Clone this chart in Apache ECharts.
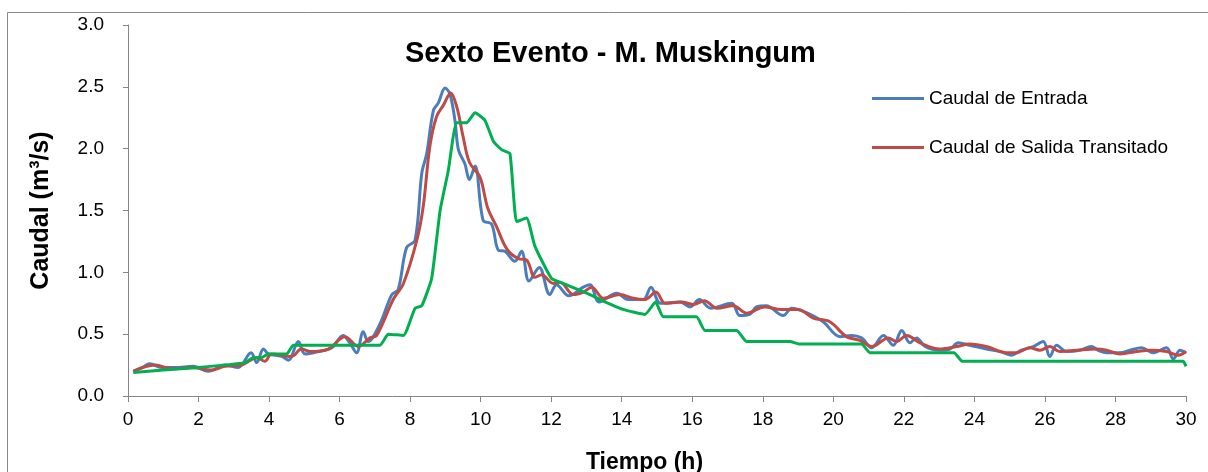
<!DOCTYPE html>
<html>
<head>
<meta charset="utf-8">
<script src="https://cdn.jsdelivr.net/npm/echarts@6/dist/echarts.min.js"></script>
<style>
html,body{margin:0;padding:0;background:#fff;}
#chart{width:1208px;height:472px;}
</style>
</head>
<body>
<div id="chart"></div>
<script>
const titleText = 'Sexto Evento - M. Muskingum';
const xAxisName = 'Tiempo (h)';
const yAxisName = 'Caudal (m³/s)';
const seriesNames = ['Caudal de Entrada', 'Caudal de Salida Transitado', 'Caudal de Salida Observado'];

const caudalEntrada = [[0.15,0.20],[0.4,0.23],[0.62,0.26],[0.95,0.23],[1.33,0.23],[1.85,0.24],[2.28,0.20],[2.75,0.25],[3.12,0.23],[3.49,0.35],[3.65,0.27],[3.84,0.38],[3.98,0.34],[4.36,0.32],[4.55,0.29],[4.83,0.44],[5.02,0.34],[5.4,0.36],[5.78,0.39],[6.1,0.49],[6.29,0.43],[6.48,0.35],[6.67,0.52],[6.81,0.44],[7.14,0.58],[7.48,0.82],[7.66,0.86],[7.9,1.20],[8.14,1.26],[8.33,1.80],[8.47,1.96],[8.66,2.31],[8.8,2.37],[8.99,2.49],[9.13,2.44],[9.27,2.23],[9.37,1.99],[9.55,1.88],[9.68,1.75],[9.84,1.86],[10.07,1.42],[10.31,1.39],[10.5,1.18],[10.69,1.17],[10.97,1.09],[11.16,1.17],[11.37,0.93],[11.66,1.04],[11.96,0.82],[12.15,0.90],[12.5,0.81],[12.91,0.88],[13.1,0.90],[13.36,0.76],[13.86,0.83],[14.18,0.78],[14.61,0.78],[14.83,0.88],[15.1,0.75],[15.65,0.76],[15.94,0.72],[16.2,0.78],[16.52,0.71],[17.12,0.75],[17.35,0.65],[17.63,0.66],[17.82,0.72],[18.1,0.73],[18.58,0.65],[18.82,0.71],[19.19,0.68],[19.71,0.60],[20.19,0.48],[20.52,0.49],[20.8,0.47],[21.09,0.39],[21.42,0.49],[21.7,0.41],[21.94,0.53],[22.17,0.43],[22.36,0.47],[22.6,0.40],[23.02,0.37],[23.31,0.38],[23.54,0.43],[23.87,0.41],[24.34,0.38],[24.72,0.36],[25.05,0.33],[25.33,0.37],[25.67,0.40],[25.95,0.44],[26.14,0.32],[26.33,0.41],[26.61,0.36],[26.99,0.37],[27.32,0.40],[27.51,0.37],[27.75,0.35],[28.13,0.35],[28.41,0.37],[28.74,0.39],[29.07,0.35],[29.45,0.39],[29.64,0.30],[29.83,0.37],[30.0,0.35]];

const caudalTransitado = [[0.15,0.20],[0.77,0.25],[1.24,0.22],[1.8,0.23],[2.37,0.21],[2.75,0.24],[3.22,0.25],[3.65,0.31],[3.88,0.28],[4.07,0.34],[4.64,0.32],[4.92,0.38],[5.16,0.36],[5.68,0.38],[6.15,0.48],[6.53,0.40],[6.86,0.47],[7.05,0.49],[7.52,0.78],[7.81,0.91],[8.19,1.26],[8.37,1.53],[8.56,2.02],[8.75,2.26],[8.94,2.35],[9.15,2.45],[9.33,2.33],[9.5,2.10],[9.68,1.89],[9.98,1.77],[10.2,1.52],[10.45,1.37],[10.74,1.19],[11.07,1.11],[11.3,1.10],[11.54,0.96],[11.73,0.98],[12.06,0.91],[12.25,0.92],[12.63,0.82],[12.91,0.84],[13.15,0.88],[13.48,0.79],[13.95,0.82],[14.33,0.79],[14.66,0.78],[14.97,0.84],[15.23,0.75],[15.7,0.76],[16.03,0.74],[16.34,0.77],[16.7,0.71],[17.16,0.73],[17.54,0.67],[18.05,0.72],[18.53,0.70],[19.0,0.70],[19.43,0.63],[19.9,0.60],[20.37,0.48],[20.75,0.45],[21.09,0.40],[21.56,0.47],[21.79,0.44],[22.08,0.49],[22.46,0.43],[23.02,0.38],[23.49,0.40],[23.87,0.42],[24.34,0.40],[24.91,0.35],[25.19,0.35],[25.57,0.39],[25.86,0.37],[26.14,0.40],[26.42,0.36],[26.9,0.37],[27.46,0.38],[27.75,0.37],[28.13,0.34],[28.6,0.36],[28.98,0.37],[29.45,0.36],[29.78,0.33],[30.0,0.36]];

const caudalObservado = [[0.15,0.19],[1.0,0.21],[2.0,0.23],[3.32,0.27],[3.55,0.31],[3.79,0.31],[3.98,0.34],[4.5,0.34],[4.69,0.41],[7.14,0.41],[7.38,0.50],[7.81,0.49],[8.14,0.71],[8.33,0.73],[8.61,0.95],[8.85,1.50],[9.08,1.82],[9.32,2.21],[9.6,2.21],[9.84,2.29],[10.12,2.23],[10.36,2.06],[10.6,1.99],[10.83,1.96],[11.02,1.41],[11.3,1.44],[11.54,1.21],[12.01,0.95],[12.34,0.91],[13.1,0.82],[13.38,0.78],[14.04,0.70],[14.66,0.66],[14.96,0.76],[15.18,0.64],[16.12,0.64],[16.36,0.53],[17.26,0.53],[17.54,0.44],[18.77,0.44],[19.05,0.42],[20.8,0.42],[21.04,0.35],[23.42,0.35],[23.66,0.28],[29.92,0.28],[30.0,0.24]];

const chart = echarts.init(document.getElementById('chart'), null, {renderer: 'canvas'});
const FONT = '"Liberation Sans", Arial, sans-serif';
chart.setOption({
  backgroundColor: '#ffffff',
  animation: false,
  textStyle: {fontFamily: FONT},
  graphic: [{
    type: 'rect', silent: true,
    shape: {x: 7.5, y: 12.5, width: 1230, height: 490},
    style: {fill: 'none', stroke: '#898989', lineWidth: 1}
  }],
  title: {
    text: titleText, left: 400, top: 34,
    textStyle: {fontFamily: FONT, fontSize: 29, fontWeight: 'bold', color: '#000'}
  },
  legend: {
    data: [seriesNames[0], seriesNames[1]],
    orient: 'vertical', left: 872, top: 89, itemGap: 30, padding: 0,
    itemWidth: 52, itemHeight: 3,
    icon: 'rect',
    textStyle: {fontFamily: FONT, fontSize: 19, color: '#000'}
  },
  grid: {left: 128, right: 22, top: 25, bottom: 76, outerBoundsMode: 'none', containLabel: false},
  xAxis: {
    type: 'value', min: 0, max: 30, interval: 2,
    name: xAxisName, nameLocation: 'middle', nameGap: 55,
    nameTextStyle: {fontFamily: FONT, fontSize: 23, fontWeight: 'bold', color: '#000', padding: [0, 25, 0, 0]},
    axisLine: {lineStyle: {color: '#868686', width: 1}},
    axisTick: {show: true, length: 6, lineStyle: {color: '#868686'}},
    axisLabel: {fontFamily: FONT, fontSize: 19, color: '#000', margin: 14},
    splitLine: {show: false}
  },
  yAxis: {
    type: 'value', min: 0, max: 3, interval: 0.5,
    name: yAxisName, nameLocation: 'middle', nameGap: 74, nameRotate: 90,
    nameTextStyle: {fontFamily: FONT, fontSize: 25, fontWeight: 'bold', color: '#000'},
    axisLine: {show: true, lineStyle: {color: '#868686', width: 1}},
    axisTick: {show: true, length: 5, lineStyle: {color: '#868686'}},
    axisLabel: {fontFamily: FONT, fontSize: 19, color: '#000', margin: 24, padding: [4, 0, 0, 0],
      formatter: v => v.toFixed(1)},
    splitLine: {show: false}
  },
  series: [
    {name: seriesNames[0], type: 'line', data: caudalEntrada, smooth: 0.35, showSymbol: false,
      lineStyle: {color: '#4A7EBB', width: 3}, itemStyle: {color: '#4A7EBB'}},
    {name: seriesNames[1], type: 'line', data: caudalTransitado, smooth: 0.35, showSymbol: false,
      lineStyle: {color: '#BE4B48', width: 3}, itemStyle: {color: '#BE4B48'}},
    {name: seriesNames[2], type: 'line', data: caudalObservado, smooth: 0.15, showSymbol: false,
      lineStyle: {color: '#00B050', width: 3}, itemStyle: {color: '#00B050'}}
  ]
});
</script>
</body>
</html>
